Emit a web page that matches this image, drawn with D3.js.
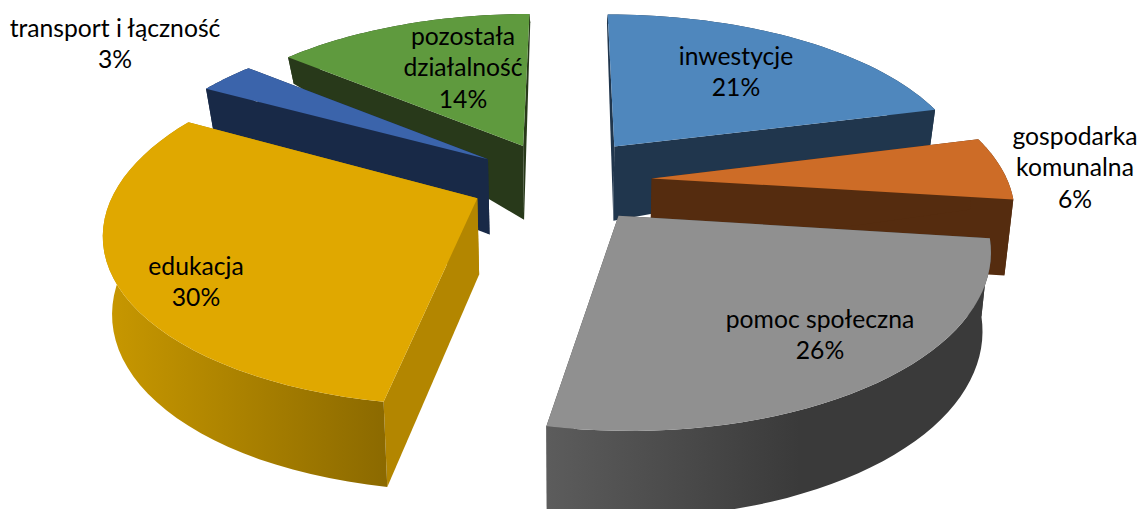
<!DOCTYPE html>
<html lang="pl"><head><meta charset="utf-8">
<style>html,body{margin:0;padding:0;background:#fff;overflow:hidden}svg{display:block}</style>
<script src="https://cdn.jsdelivr.net/npm/d3@7"></script></head>
<body><svg id="c" width="1141" height="509"></svg>
<script>
// --- data ---
const categories = ["inwestycje","gospodarka komunalna","pomoc społeczna","edukacja","transport i łączność","pozostała działalność"];
const shares = [21,6,26,30,3,14];
// --- label line breaks ---
const labelLines = [["inwestycje"],["gospodarka","komunalna"],["pomoc społeczna"],["edukacja"],["transport i łączność"],["pozostała","działalność"]];
// --- style ---
const topColors  = ["#4f87bd","#cd6c27","#909090","#e0a800","#3b64ab","#5f9a3e"];
const sideColors = ["#20364d","#552c0f","#404040","#b38600","#182947","#28391a"];
const wallStops  = [["#20364d","#20364d"],["#552c0f","#552c0f"],["#5c5c5c","#3a3a3a"],["#c89800","#8c6a00"],["#182947","#182947"],["#28391a","#28391a"]];
const wallRange  = [[600,940],[650,1010],[547,800],[105,384],[200,490],[288,525]];
// --- layout of the 3D view ---
const explode = [0.25,0.25,0.25,0.27,0.25,0.25];
const nudgeX = [-6,-4,-3,-3,-9,-9], nudgeY = [-2,1,1,-1,2,2];   // per-slice fine shift, px at the view centre
const radiusX = [1.02,1.01,1,1.02,1.03,1.01];
const startTweak = [0,0,0,-1,0,0];                                // degrees
const drawOrder = [5,4,3,0,1,2];
const labelCenter = [[736,56],[1075,136],[820,319],[196,266],[115,28],[463,36]];
const lineStep = 31.5, fontSize = 24.7;
const view = {cx:568, cy:180, a:352, b:165, k:0.17, wallScale:0.98};
const depth = d3.scaleLinear().domain([-1.3,-1.09,-0.1,0.2,0.62,0.86,1.3]).range([88,85,76,75,41,26,5]);

const project = (X,Y)=>{const q=1+view.k*Y;return [view.cx+view.a*X/q, view.cy-view.b*Y/q];};
const bottomOf = (X,Y)=>{const [x,y]=project(X,Y);return [view.cx+(x-view.cx)*view.wallScale, y+depth(Y)];};

const svg=d3.select("#c"), defs=svg.append("defs");
const line=d3.line();
const arcs=d3.pie().sort(null).value(d=>d)(shares);

function outline(i){
  const d=arcs[i], m=(d.startAngle+d.endAngle)/2, e=explode[i];
  const s=d.startAngle+startTweak[i]*Math.PI/180;
  const o=[e*Math.sin(m)+nudgeX[i]/view.a, e*Math.cos(m)-nudgeY[i]/view.b];
  const pts=d3.range(0,41).map(j=>{const t=s+(d.endAngle-s)*j/40;return [o[0]+radiusX[i]*Math.sin(t),o[1]+Math.cos(t)];});
  return {o,pts};
}
wallStops.forEach((s,i)=>{
  const g=defs.append("linearGradient").attr("id","w"+i).attr("gradientUnits","userSpaceOnUse")
    .attr("x1",wallRange[i][0]).attr("x2",wallRange[i][1]).attr("y1",0).attr("y2",0);
  g.append("stop").attr("offset",0).attr("stop-color",s[0]);
  g.append("stop").attr("offset",1).attr("stop-color",s[1]);
});
drawOrder.forEach(i=>{
  const {o,pts}=outline(i), g=svg.append("g").attr("class","slice").attr("data-name",categories[i]);
  const topArc=pts.map(p=>project(...p)), botArc=pts.map(p=>bottomOf(...p));
  const A=project(...o), B=bottomOf(...o);
  const first=topArc[0], last=topArc[40];
  g.append("path").attr("d",line([A,last,botArc[40],B])+"Z").attr("fill",sideColors[i]);
  g.append("path").attr("d",line([A,first,botArc[0],B])+"Z").attr("fill",sideColors[i]);
  g.append("path").attr("d",line(topArc.concat(botArc.slice().reverse()))+"Z").attr("fill","url(#w"+i+")");
  g.append("path").attr("d",line([A].concat(topArc))+"Z").attr("fill",topColors[i]);
});
labelLines.forEach((ls,i)=>{
  const [x,y]=labelCenter[i];
  ls.concat([shares[i]+"%"]).forEach((t,j)=>{
    svg.append("text").attr("x",x).attr("y",y+j*lineStep).attr("dy","0.35em").attr("text-anchor","middle")
      .attr("font-family","Lato, 'Open Sans', sans-serif").attr("font-size",fontSize).attr("fill","#000").text(t);
  });
});
</script></body></html>
